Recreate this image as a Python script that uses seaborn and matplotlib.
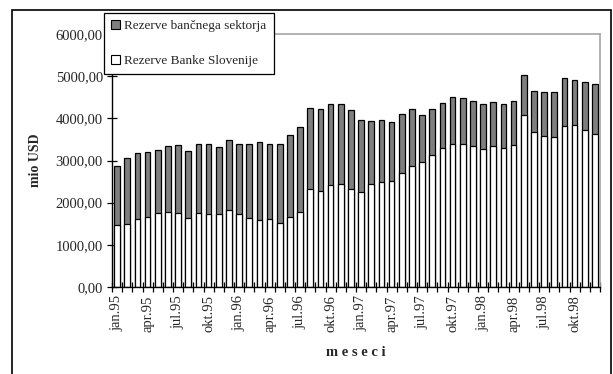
import matplotlib
matplotlib.use("Agg")
import matplotlib.pyplot as plt
from matplotlib.patches import Patch, Rectangle
import numpy as np
import pandas as pd
import seaborn as sns

# Monthly reserves, jan.95 - dec.98 (mio USD)
leta = ["95", "96", "97", "98"]
meseci_kratko = ["jan", "feb", "mar", "apr", "maj", "jun",
                 "jul", "avg", "sep", "okt", "nov", "dec"]
mesec = [f"{m}.{l}" for l in leta for m in meseci_kratko]

rezerve_bs = [1460, 1492, 1603, 1659, 1746, 1778, 1746, 1635, 1754, 1722, 1722, 1833,
              1722, 1635, 1579, 1611, 1524, 1667, 1778, 2317, 2286, 2413, 2437, 2317,
              2262, 2452, 2484, 2508, 2706, 2881, 2960, 3135, 3302, 3381, 3381, 3333,
              3278, 3333, 3302, 3357, 4071, 3675, 3587, 3563, 3817, 3841, 3730, 3619]
rezerve_sektor = [1400, 1560, 1565, 1540, 1510, 1563, 1619, 1595, 1635, 1667, 1588, 1651,
                  1667, 1754, 1850, 1778, 1865, 1928, 2015, 1929, 1928, 1920, 1903, 1881,
                  1698, 1485, 1476, 1404, 1405, 1341, 1119, 1087, 1063, 1119, 1095, 1079,
                  1055, 1056, 1031, 1055, 953, 968, 1032, 1056, 1135, 1064, 1143, 1198]

y_ticks = [0, 1000, 2000, 3000, 4000, 5000, 6000]
y_tick_labels = ["0,00", "1000,00", "2000,00", "3000,00", "4000,00", "5000,00", "6000,00"]

df = pd.DataFrame({"mesec": mesec,
                   "bs": rezerve_bs,
                   "sektor": rezerve_sektor})
df["skupaj"] = df["bs"] + df["sektor"]

sns.set_style("ticks")
plt.rcParams["font.family"] = ["Liberation Serif", "DejaVu Serif"]

fig = plt.figure(figsize=(6.13, 3.74), dpi=100)
ax = fig.add_axes([112 / 613, 1 - 287 / 374, 488 / 613, 253 / 374])

siva = "#7f7f7f"
sns.barplot(data=df, x="mesec", y="skupaj", color=siva, saturation=1,
            edgecolor="black", linewidth=0.9, width=0.55, ax=ax, errorbar=None)
sns.barplot(data=df, x="mesec", y="bs", color="white", saturation=1,
            edgecolor="black", linewidth=0.9, width=0.55, ax=ax, errorbar=None)

n = len(mesec)
ax.set_xlim(-0.5, n - 0.5)
ax.set_ylim(0, 6000)

# labels every third month, boundary ticks between bars
lab_pos = list(range(0, n, 3))
ax.set_xticks(lab_pos)
ax.set_xticklabels([mesec[i] for i in lab_pos], rotation=90, fontsize=10.5)
ax.tick_params(axis="x", which="major", length=0, pad=6)
ax.set_xticks(np.arange(-0.5, n, 1.0), minor=True)
ax.tick_params(axis="x", which="minor", direction="inout", length=7, width=0.9,
               color="black")

ax.set_yticks(y_ticks)
ax.set_yticklabels(y_tick_labels, fontsize=10.5)
ax.tick_params(axis="y", direction="inout", length=7, width=0.9, color="black", pad=3)

for side in ("left", "bottom"):
    ax.spines[side].set_color("black")
    ax.spines[side].set_linewidth(1.0)
for side in ("top", "right"):
    ax.spines[side].set_visible(True)
    ax.spines[side].set_color("#a6a6a6")
    ax.spines[side].set_linewidth(1.2)

ax.set_xlabel("m e s e c i", fontsize=10.5, fontweight="bold", labelpad=10)
ax.set_ylabel("mio USD", fontsize=10, fontweight="bold", labelpad=10)

handles = [Patch(facecolor=siva, edgecolor="black", linewidth=0.8),
           Patch(facecolor="white", edgecolor="black", linewidth=0.8)]
leg = fig.legend(handles, ["Rezerve bančnega sektorja", "Rezerve Banke Slovenije"],
                 loc="upper left", bbox_to_anchor=(104 / 613, 1 - 13 / 374),
                 bbox_transform=fig.transFigure, fontsize=9.5, frameon=True,
                 fancybox=False, framealpha=1, edgecolor="black",
                 handlelength=0.7, handleheight=0.7, handletextpad=0.3,
                 labelspacing=1.7, borderpad=0.55, borderaxespad=0)
leg.get_frame().set_linewidth(0.9)

# outer frame round the whole chart
fig.patches.append(Rectangle((12 / 613, -0.02), 599 / 613, 1 - 10 / 374 + 0.02,
                             transform=fig.transFigure, fill=False,
                             edgecolor="black", linewidth=1.2, zorder=0))

fig.savefig("out.png", dpi=100)
